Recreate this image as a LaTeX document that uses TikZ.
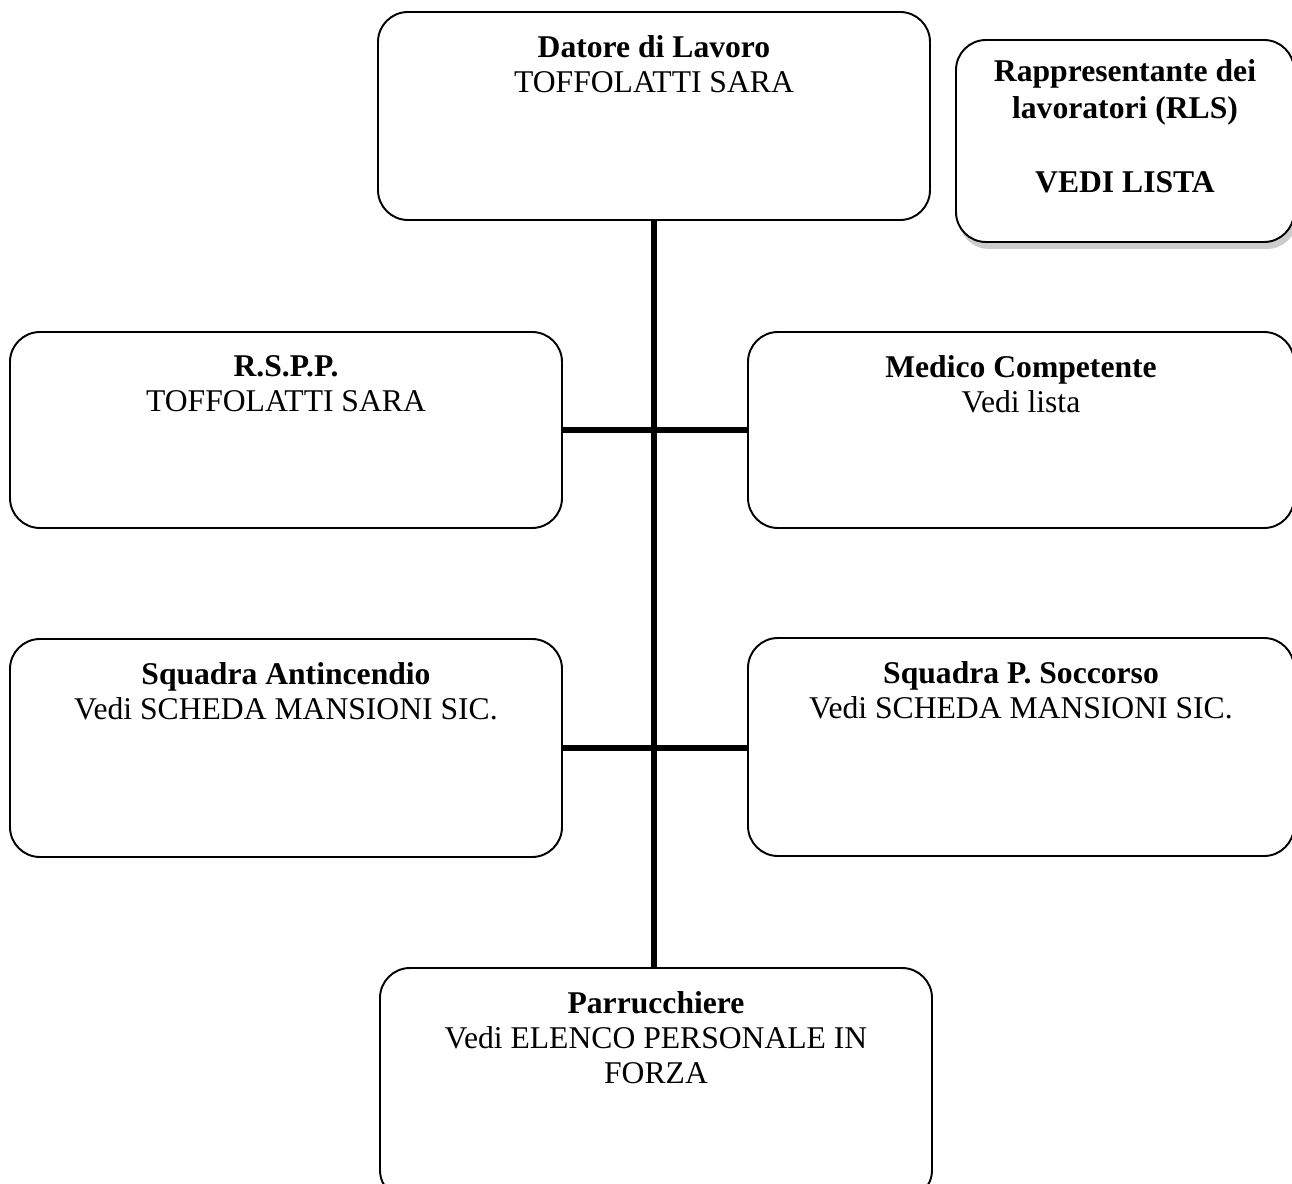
\documentclass[tikz,border=0pt]{standalone}
\usepackage{fontspec}
\setmainfont{Liberation Serif}
\usetikzlibrary{positioning,shadows}

\begin{document}
\begin{tikzpicture}[
    box/.style={draw, line width=1.1pt, rounded corners=0.6cm, fill=white,
                minimum width=11.04cm, inner sep=0pt},
    boxtext/.style={align=center, inner sep=0pt, font=\fontsize{18}{20}\selectfont},
    link/.style={line width=3.6pt}
  ]
  \useasboundingbox (0,0) rectangle (25.84,-23.68);

  % boxes
  \node[box, minimum height=4.16cm] (dl) at (13.08,-2.32) {};
  \node[box, minimum width=6.76cm, minimum height=4.04cm,
        drop shadow={shadow xshift=0.06cm, shadow yshift=-0.14cm, fill=gray!80}]
        (rls) at (22.5,-2.82) {};
  \node[box, minimum height=3.92cm] (rspp) at (5.72,-8.6) {};
  \node[box, minimum width=10.92cm, minimum height=3.92cm] (mc) at (20.42,-8.6) {};
  \node[box, minimum height=4.36cm] (sa) at (5.72,-14.96) {};
  \node[box, minimum width=10.92cm, minimum height=4.36cm] (sp) at (20.42,-14.94) {};
  \node[box, minimum height=4.64cm] (par) at (13.12,-21.68) {};

  % texts
  \node[boxtext, below=0.48cm of dl.north] {\textbf{Datore di Lavoro}\\TOFFOLATTI SARA};
  \node[boxtext, font=\fontsize{18}{21}\selectfont, below=0.4cm of rls.north]
    {\textbf{Rappresentante dei}\\\textbf{lavoratori (RLS)}\\[21pt]\textbf{VEDI LISTA}};
  \node[boxtext, below=0.48cm of rspp.north] {\textbf{R.S.P.P.}\\TOFFOLATTI SARA};
  \node[boxtext, below=0.48cm of mc.north] {\textbf{Medico Competente}\\Vedi lista};
  \node[boxtext, below=0.48cm of sa.north] {\textbf{Squadra Antincendio}\\Vedi SCHEDA MANSIONI SIC.};
  \node[boxtext, below=0.48cm of sp.north] {\textbf{Squadra P. Soccorso}\\Vedi SCHEDA MANSIONI SIC.};
  \node[boxtext, below=0.48cm of par.north] {\textbf{Parrucchiere}\\Vedi ELENCO PERSONALE IN\\FORZA};

  % connectors
  \draw[link] (dl.south) -- (dl.south |- par.north);
  \draw[link] (rspp.east) -- (rspp.east -| mc.west);
  \draw[link] (sa.east) -- (sa.east -| sp.west);
\end{tikzpicture}
\end{document}
